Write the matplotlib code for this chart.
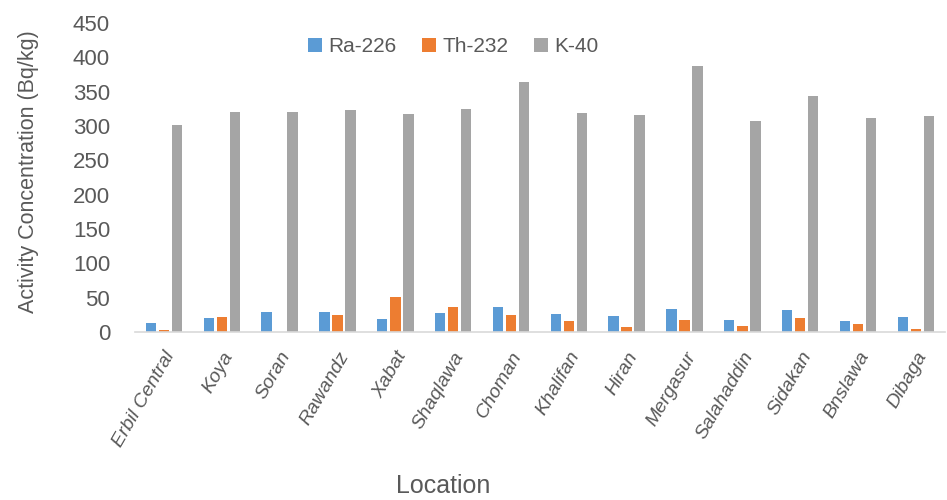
import numpy as np
import matplotlib
matplotlib.use('Agg')
import matplotlib.pyplot as plt

locations = ['Erbil Central', 'Koya', 'Soran', 'Rawandz', 'Xabat', 'Shaqlawa', 'Choman',
             'Khalifan', 'Hiran', 'Mergasur', 'Salahaddin', 'Sidakan', 'Bnslawa', 'Dibaga']
ra226 = [13.6, 20, 28.6, 29.6, 18.4, 27.6, 37, 25.7, 23.2, 33.4, 17, 31.5, 16.5, 21.8]
th232 = [3.5, 21.8, 0, 25.2, 51.4, 36.9, 25.2, 15.5, 7.8, 17.4, 8.3, 20.9, 11.2, 4.9]
k40 = [302, 320, 320, 323, 317, 325, 364, 319, 316, 388, 308, 343, 311, 315]
y_ticks = [0, 50, 100, 150, 200, 250, 300, 350, 400, 450]

plt.rcParams['font.family'] = ['Liberation Sans', 'DejaVu Sans']
text_color = '#595959'

fig = plt.figure(figsize=(9.47, 5), dpi=100)
ax = fig.add_axes([0.1426, 0.336, 0.855, 0.618])

x = np.arange(len(locations))
w = 0.18
off = 0.225
ax.bar(x - off, ra226, w, color='#5B9BD5', label='Ra-226')
ax.bar(x, th232, w, color='#ED7D31', label='Th-232')
ax.bar(x + off, k40, w, color='#A5A5A5', label='K-40')

ax.set_xlim(-0.5, len(locations) - 0.5)
ax.set_ylim(0, 450)
ax.set_yticks(y_ticks)
ax.tick_params(axis='y', length=0, pad=18, labelsize=16, labelcolor=text_color)
ax.set_xticks(x)
ax.set_xticklabels(locations, rotation=60, ha='right', rotation_mode='anchor',
                   fontstyle='italic')
ax.tick_params(axis='x', length=0, pad=12, labelsize=14, labelcolor=text_color)

for s in ['top', 'right', 'left']:
    ax.spines[s].set_visible(False)
ax.spines['bottom'].set_color('#D9D9D9')
ax.spines['bottom'].set_linewidth(1.2)

ax.set_ylabel('Activity Concentration (Bq/kg)', fontsize=15.5, color=text_color)
ax.yaxis.set_label_coords(-0.118, 0.52)
ax.set_xlabel('Location', fontsize=18, color=text_color)
ax.xaxis.set_label_coords(0.38, -0.46)

ax.legend(loc='upper center', bbox_to_anchor=(0.393, 1.015), ncol=3, frameon=False,
          fontsize=15, labelcolor=text_color, handlelength=0.7, handleheight=0.7,
          handletextpad=0.3, columnspacing=1.2)

fig.savefig('out.png', dpi=100)
